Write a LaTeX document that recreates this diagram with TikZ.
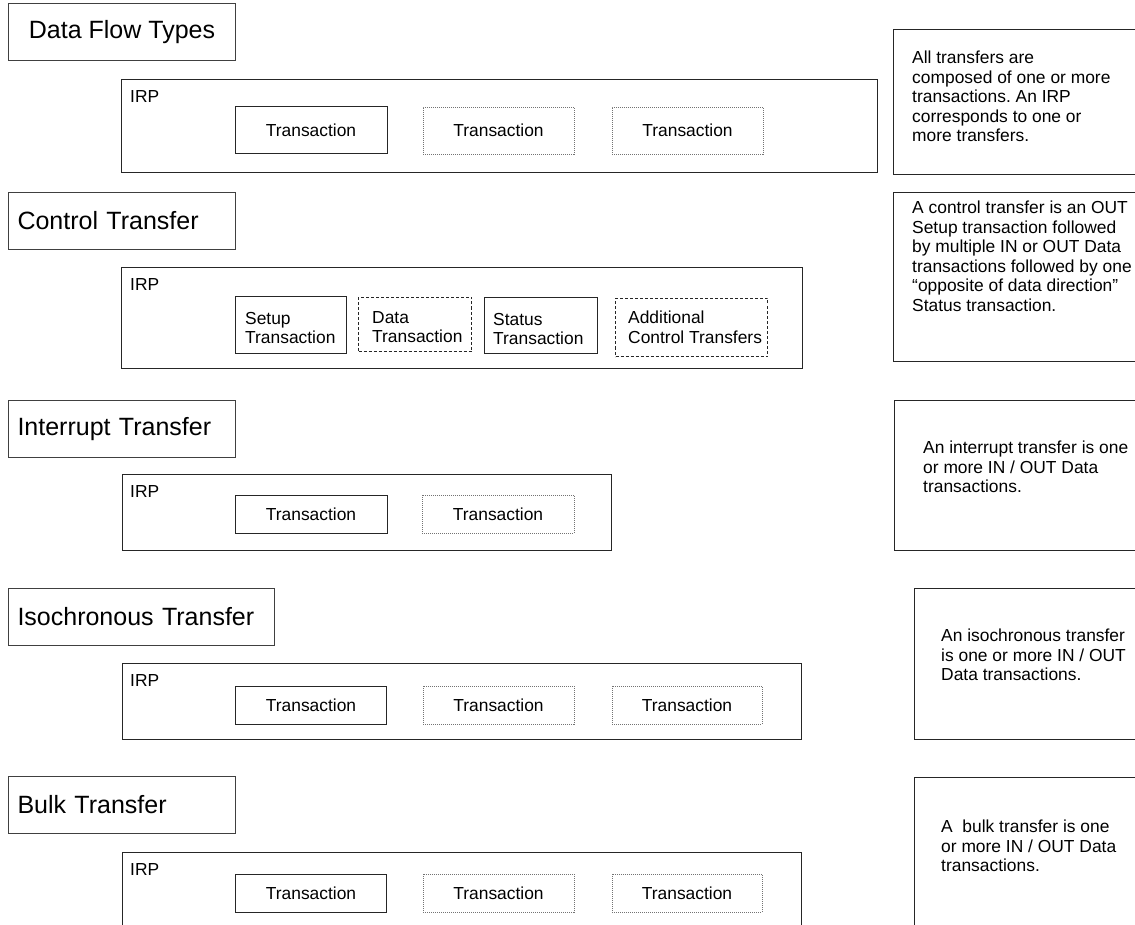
\documentclass[tikz,border=0pt]{standalone}
\usepackage{fontspec}
\setmainfont{Liberation Sans}
\frenchspacing
\newcommand\titlefont{\fontsize{25}{30}\selectfont}
\newcommand\bodyfont{\fontsize{17.4}{19.5}\selectfont}
\tikzset{
  titlebox/.style={draw=black!75, line width=1pt, anchor=north west,
    minimum height=57pt, inner xsep=9pt, align=left, font=\titlefont},
  irpbox/.style={draw=black!85, line width=1pt, anchor=north west, inner sep=0pt},
  irptag/.style={anchor=west, inner sep=0pt, font=\bodyfont},
  transbox/.style={draw=black!85, line width=1pt, inner sep=0pt, font=\bodyfont},
  optbox/.style={transbox, draw=black!55, line width=0.8pt, dash pattern=on 1pt off 1pt},
  ctrlbox/.style={draw=black!85, line width=1pt, anchor=north west, inner sep=0pt},
  ctrlopt/.style={ctrlbox, dash pattern=on 3pt off 2pt},
  notebox/.style={draw=black!85, line width=1pt, anchor=north west, inner sep=0pt,
    minimum width=260pt},
  bodytext/.style={anchor=north west, inner sep=0pt, align=left, font=\bodyfont},
}
\begin{document}
\begin{tikzpicture}[x=1pt, y=-1pt]
      \useasboundingbox (0,0) rectangle (1135,925);
      \clip (0,0) rectangle (1135,925);

      \node[titlebox, align=center, minimum width=227pt] (flow) at (8,3) {Data Flow Types};
      \node[irpbox, minimum width=756pt, minimum height=93pt] (irp1) at (121,79) {};
      \node[irptag] (irp1tag) at (130,97) {IRP};
      \node[transbox, minimum width=152pt, minimum height=47pt] (t1a) at (311,130.5) {Transaction};
      \node[optbox, minimum width=151pt, minimum height=47pt] (t1b) at (498.5,130.5) {Transaction};
      \node[optbox, minimum width=151pt, minimum height=47pt] (t1c) at (687.5,130.5) {Transaction};

      \node[titlebox, text width=209pt] (ctrl) at (8,192) {Control Transfer};
      \node[irpbox, minimum width=681pt, minimum height=101pt] (irp2) at (121,267) {};
      \node[irptag] (irp2tag) at (130,285) {IRP};
      \node[ctrlbox, minimum width=111pt, minimum height=57pt] (setup) at (235,296) {};
      \node[bodytext] (setuptext) at (245,312) {Setup\\Transaction};
      \node[ctrlopt, minimum width=113pt, minimum height=54pt] (data) at (358,297) {};
      \node[bodytext] (datatext) at (372,311) {Data\\Transaction};
      \node[ctrlbox, minimum width=113pt, minimum height=56pt] (status) at (484,297) {};
      \node[bodytext] (statustext) at (493,313) {Status\\Transaction};
      \node[ctrlopt, minimum width=152pt, minimum height=58pt] (more) at (615,298) {};
      \node[bodytext] (moretext) at (628,311) {Additional\\Control Transfers};

      \node[titlebox, text width=209pt] (intr) at (8,400) {Interrupt Transfer};
      \node[irpbox, minimum width=489pt, minimum height=76pt] (irp3) at (122,474) {};
      \node[irptag] (irp3tag) at (130,492) {IRP};
      \node[transbox, minimum width=152pt, minimum height=38pt] (t3a) at (311,514) {Transaction};
      \node[optbox, minimum width=152pt, minimum height=38pt] (t3b) at (498,514) {Transaction};

      \node[titlebox, text width=248pt] (iso) at (8,588) {Isochronous Transfer};
      \node[irpbox, minimum width=679pt, minimum height=76pt] (irp4) at (122,663) {};
      \node[irptag] (irp4tag) at (130,681) {IRP};
      \node[transbox, minimum width=151pt, minimum height=38pt] (t4a) at (311,705) {Transaction};
      \node[optbox, minimum width=151pt, minimum height=38pt] (t4b) at (498.5,705) {Transaction};
      \node[optbox, minimum width=150pt, minimum height=38pt] (t4c) at (687,705) {Transaction};

      \node[titlebox, text width=209pt] (bulk) at (8,776) {Bulk Transfer};
      \node[irpbox, minimum width=679pt, minimum height=110pt] (irp5) at (122,852) {};
      \node[irptag] (irp5tag) at (130,870) {IRP};
      \node[transbox, minimum width=151pt, minimum height=38pt] (t5a) at (311,893) {Transaction};
      \node[optbox, minimum width=151pt, minimum height=38pt] (t5b) at (498.5,893) {Transaction};
      \node[optbox, minimum width=150pt, minimum height=38pt] (t5c) at (687,893) {Transaction};

      \node[notebox, minimum height=145pt] (note1) at (893,29) {};
      \node[bodytext] (note1text) at (912,51) {All transfers are\\composed of one or more\\transactions. An IRP\\corresponds to one or\\more transfers.};
      \node[notebox, minimum height=169pt] (note2) at (893,192) {};
      \node[bodytext] (note2text) at (912,201) {A control transfer is an OUT\\Setup transaction followed\\by multiple IN or OUT Data\\transactions followed by one\\“opposite of data direction”\\Status transaction.};
      \node[notebox, minimum height=150pt] (note3) at (894,400) {};
      \node[bodytext] (note3text) at (923,441) {An interrupt transfer is one\\or more IN / OUT Data\\transactions.};
      \node[notebox, minimum height=151pt] (note4) at (914,588) {};
      \node[bodytext] (note4text) at (941,629) {An isochronous transfer\\is one or more IN / OUT\\Data transactions.};
      \node[notebox, minimum height=200pt] (note5) at (914,777) {};
      \node[bodytext] (note5text) at (941,820) {A\ \ bulk transfer is one\\or more IN / OUT Data\\transactions.};
    \end{tikzpicture}
\end{document}
